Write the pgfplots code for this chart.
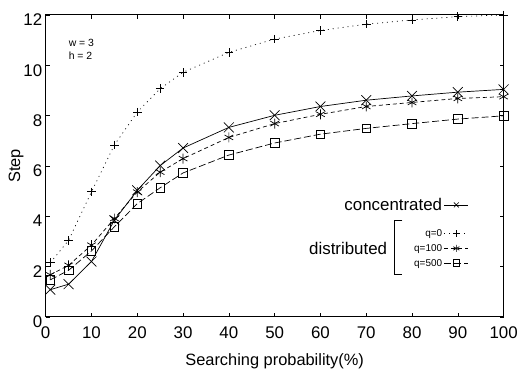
\documentclass[border=0pt]{standalone}
\usepackage{fontspec}
\setmainfont{Liberation Sans}
\usepackage{pgfplots}
\pgfplotsset{compat=1.18}
\pgfplotstableread{
x conc q0 q100 q500
1 1.08 2.15 1.67 1.47
5 1.30 3.04 2.05 1.85
10 2.20 4.97 2.85 2.62
15 3.84 6.83 3.91 3.58
20 5.03 8.14 4.96 4.50
25 6.01 9.07 5.75 5.13
30 6.71 9.72 6.29 5.72
40 7.53 10.51 7.13 6.43
50 8.01 11.04 7.68 6.91
60 8.36 11.38 8.05 7.26
70 8.61 11.63 8.36 7.49
80 8.78 11.80 8.52 7.68
90 8.93 11.93 8.68 7.86
100 9.04 12.00 8.75 7.99
}\datatable
\begin{document}
\begin{tikzpicture}
\pgfplotsset{
  common/.style={scale only axis, width=461bp, height=304bp,
    xmin=0, xmax=100, ymin=0, ymax=12},
  limg/.style={legend image code/.code={%
    \draw[mark repeat=2, mark phase=2, ##1, mark size=3.5bp]
      plot coordinates {(0bp,0bp) (12bp,0bp) (24bp,0bp)};}},
}
\begin{axis}[common,
  xtick={0,10,...,100}, ytick={0,2,...,12},
  tick align=inside, major tick length=4bp,
  tick style={black, line width=0.6bp},
  axis line style={line width=0.9bp},
  /pgf/number format/assume math mode=true,
  tick label style={font=\fontsize{17bp}{20bp}\selectfont},
  xticklabel style={yshift=-6bp},
  yticklabel style={yshift=-5bp},
  label style={font=\fontsize{16.5bp}{20bp}\selectfont},
  xlabel={Searching probability(\%)}, ylabel={Step},
  xlabel style={yshift=-9bp},
  ylabel style={yshift=-7bp},
  legend style={at={(axis cs:92.4,4.45)}, anchor=east, draw=none, fill=none,
    font=\fontsize{17bp}{20bp}\selectfont, inner sep=0pt},
  legend plot pos=right, legend cell align=right, limg]
\addplot[black, line width=0.7bp, mark=x, mark size=7bp] table[x=x, y=conc] {\datatable};
\addlegendentry{concentrated}
\coordinate (ll) at (rel axis cs:0,0);
\coordinate (ur) at (rel axis cs:1,1);
\node[anchor=north west, font=\fontsize{10.5bp}{13bp}\selectfont, align=left, inner sep=0pt]
  at (axis cs:5.0,11.05) {w = 3\\h = 2};
\node[anchor=east, font=\fontsize{17bp}{20bp}\selectfont, inner sep=0pt]
  at (axis cs:74.6,2.72) {distributed};
\draw[black, line width=0.8bp] (axis cs:77.9,3.83) -- (axis cs:76.1,3.83) -- (axis cs:76.1,1.70) -- (axis cs:77.9,1.70);
\end{axis}
\begin{axis}[common, hide axis,
  legend style={at={(axis cs:92.4,2.72)}, anchor=east, draw=none, fill=none,
    font=\fontsize{10bp}{12bp}\selectfont, inner sep=0pt, row sep=2.5bp},
  legend plot pos=right, legend cell align=right, limg]
\addplot[black, line width=0.7bp, dash pattern=on 1bp off 4bp, mark=+, mark size=4.3bp, mark options={solid}] table[x=x, y=q0] {\datatable};
\addlegendentry{q=0}
\addplot[black, line width=0.7bp, dash pattern=on 4bp off 3bp, mark=asterisk, mark size=5bp, mark options={solid}] table[x=x, y=q100] {\datatable};
\addlegendentry{q=100}
\addplot[black, line width=0.7bp, dash pattern=on 7bp off 3bp, mark=square, mark size=4.3bp, mark options={solid, fill=white}] table[x=x, y=q500] {\datatable};
\addlegendentry{q=500}
\end{axis}
\path ([shift={(-46bp,-55bp)}]ll) rectangle ([shift={(14bp,15bp)}]ur);
\end{tikzpicture}
\end{document}
